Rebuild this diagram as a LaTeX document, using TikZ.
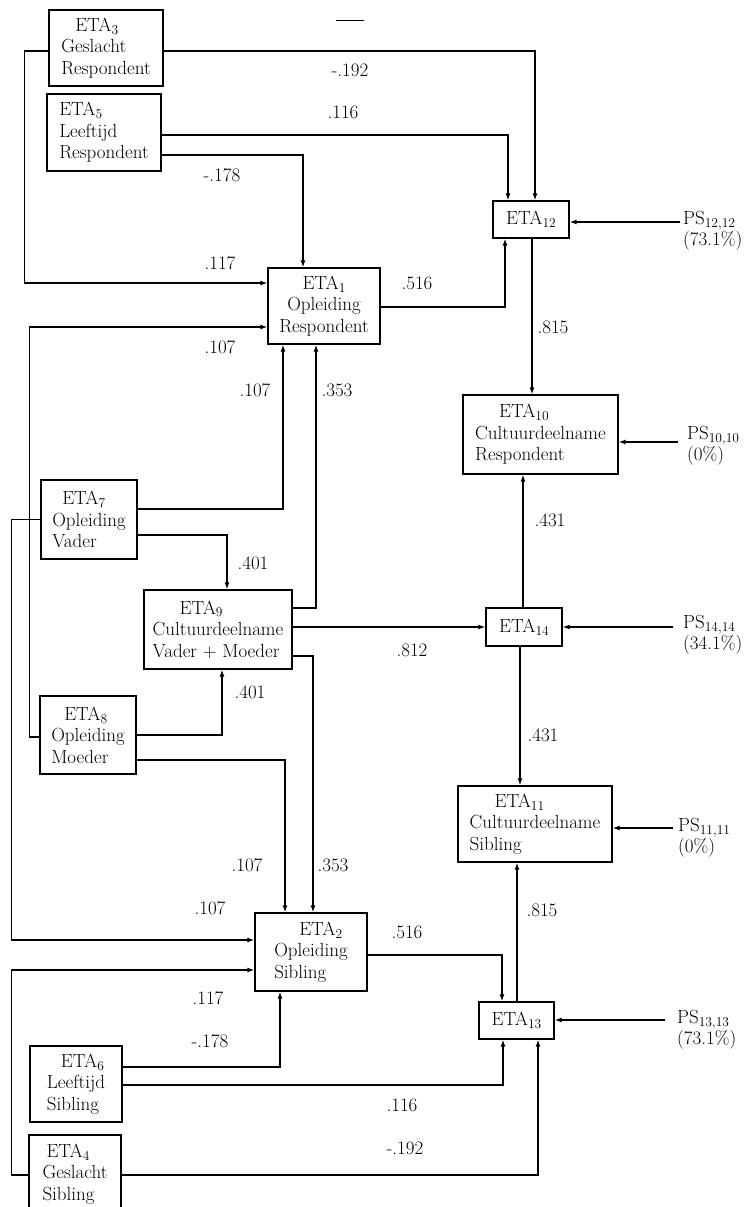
\documentclass[tikz,border=0pt]{standalone}
\usetikzlibrary{arrows.meta}
\newcommand{\etasub}[1]{\raisebox{-0.35ex}{\fontsize{13.5}{13.5}\selectfont #1}}
\begin{document}
\begin{tikzpicture}[x=1pt,y=-1pt,
  every node/.style={font=\fontsize{19}{21.5}\selectfont},
  box/.style={draw, line width=1.2pt, inner sep=0pt, align=left},
  boxc/.style={box, align=center},
  ps/.style={anchor=west, align=left, inner sep=0pt, font=\fontsize{19}{19}\selectfont},
  conn/.style={line width=1.4pt, -{Latex[length=7pt,width=5pt]}},
  lab/.style={inner sep=0pt}]
\clip (0,0) rectangle (752,1207);
\fill[white] (0,0) rectangle (752,1207);

% stray mark at top
\draw[line width=1pt] (336,21) -- (364,21);

% boxes
\node[box, minimum width=114pt, minimum height=76pt] (e3) at (106,48) {\hspace*{14pt}ETA\etasub{3}\\Geslacht\\Respondent};
\node[box, minimum width=114pt, minimum height=77pt] (e5) at (104,132.5) {ETA\etasub{5}\\Leeftijd\\Respondent};
\node[boxc, minimum width=112pt, minimum height=76pt] (e1) at (324,306) {ETA\etasub{1}\\Opleiding\\Respondent};
\node[box, minimum width=76pt, minimum height=37pt] (e12) at (531,219.5) {ETA\etasub{12}};
\node[box, minimum width=155pt, minimum height=79pt] (e10) at (540.5,434.5) {\hspace*{24pt}ETA\etasub{10}\\Cultuurdeelname\\Respondent};
\node[box, minimum width=96pt, minimum height=79pt] (e7) at (89,519.5) {\hspace*{10pt}ETA\etasub{7}\\Opleiding\\Vader};
\node[box, minimum width=148pt, minimum height=79pt] (e9) at (218,629.5) {\hspace*{27pt}ETA\etasub{9}\\Cultuurdeelname\\Vader + Moeder};
\node[box, minimum width=76pt, minimum height=38pt] (e14) at (524,627) {ETA\etasub{14}};
\node[box, minimum width=96pt, minimum height=78pt] (e8) at (88,735) {\hspace*{13pt}ETA\etasub{8}\\Opleiding\\Moeder};
\node[box, minimum width=154pt, minimum height=76pt] (e11) at (535,824) {\hspace*{25pt}ETA\etasub{11}\\Cultuurdeelname\\Sibling};
\node[box, minimum width=112pt, minimum height=78pt] (e2) at (311,952) {\hspace*{25pt}ETA\etasub{2}\\Opleiding\\Sibling};
\node[box, minimum width=75pt, minimum height=37pt] (e13) at (516.5,1020.5) {ETA\etasub{13}};
\node[box, minimum width=92pt, minimum height=76pt] (e6) at (76,1084) {\hspace*{14pt}ETA\etasub{6}\\Leeftijd\\Sibling};
\node[box, minimum width=92pt, minimum height=78pt] (e4) at (75,1174) {\hspace*{4pt}ETA\etasub{4}\\Geslacht\\Sibling};

% PS nodes
\node[ps] (ps12) at (683,231) {PS\etasub{12,12}\\(73.1\%)};
\node[ps] (ps10) at (687,446) {PS\etasub{10,10}\\(0\%)};
\node[ps] (ps14) at (683,634.5) {PS\etasub{14,14}\\(34.1\%)};
\node[ps] (ps11) at (678,837.5) {PS\etasub{11,11}\\(0\%)};
\node[ps] (ps13) at (677,1030) {PS\etasub{13,13}\\(73.1\%)};
\coordinate (p12) at (680,222);
\coordinate (p10) at (678,442);
\coordinate (p14) at (673,627);
\coordinate (p11) at (673,828);
\coordinate (p13) at (665,1020);

% connectors
\draw[conn] ([yshift=-3pt]e3.east) -| ([xshift=4pt]e12.north);
\draw[conn] ([yshift=-2.5pt]e5.east) -| ([xshift=-23pt]e12.north);
\draw[conn] ([yshift=-22.5pt]e5.east) -| ([xshift=-21pt]e1.north);
\draw[conn] ([yshift=-3pt]e3.west) -- ++(-24,0) |- ([yshift=23pt]e1.west);
\draw[conn] ([yshift=-1pt]e1.east) -| ([xshift=-26pt]e12.south);
\coordinate (c1210) at ([xshift=1pt]e12.south);
\draw[conn] (c1210) -- (c1210 |- e10.north);
\draw[conn] (p12) -- (p12 -| e12.east);
\draw[conn] (p10) -- (p10 -| e10.east);
\coordinate (c1410) at ([xshift=-1pt]e14.north);
\draw[conn] (c1410) -- (c1410 |- e10.south);
\draw[conn] ([yshift=10.5pt]e7.east) -| ([xshift=-41pt]e1.south);
\draw[conn] ([yshift=-15.5pt]e7.east) -| ([xshift=9pt]e9.north);
\draw[conn] (e7.west) -- ++(-29,0) |- ([yshift=12pt]e2.west);
\draw[conn] ([yshift=-2pt]e8.west) -- ++(-10,0) |- ([yshift=-21pt]e1.west);
\draw[conn] ([yshift=21.5pt]e9.east) -| ([xshift=-8pt]e1.south);
\coordinate (c914) at ([yshift=2.5pt]e9.east);
\draw[conn] (c914) -- (c914 -| e14.west);
\draw[conn] ([yshift=-26.5pt]e9.east) -| ([xshift=2pt]e2.north);
\draw[conn] (e8.east) -| ([xshift=4pt]e9.south);
\draw[conn] ([yshift=-25pt]e8.east) -| ([xshift=-26pt]e2.north);
\draw[conn] ([yshift=-3pt]e2.east) -| ([xshift=-14.5pt]e13.north);
\coordinate (c1311) at ([xshift=0.5pt]e13.north);
\draw[conn] (c1311) -- (c1311 |- e11.south);
\coordinate (c1411) at ([xshift=-4pt]e14.south);
\draw[conn] (c1411) -- (c1411 |- e11.north);
\draw[conn] (p14) -- (p14 -| e14.east);
\draw[conn] (p11) -- (p11 -| e11.east);
\draw[conn] (p13) -- (p13 -| e13.east);
\draw[conn] ([yshift=-1pt]e4.west) -- ++(-17,0) |- ([yshift=-18pt]e2.west);
\draw[conn] ([yshift=17pt]e6.east) -| ([xshift=-31pt]e2.south);
\draw[conn] ([yshift=-1pt]e6.east) -| ([xshift=-13.5pt]e13.south);
\draw[conn] ([yshift=-1pt]e4.east) -| ([xshift=21.5pt]e13.south);

% labels
\node[lab] (l1) at (350,70) {-.192};
\node[lab] (l2) at (343,112) {.116};
\node[lab] (l3) at (222,175) {-.178};
\node[lab] (l4) at (220,263) {.117};
\node[lab] (l5) at (417,283) {.516};
\node[lab] (l6) at (553,327) {.815};
\node[lab] (l7) at (220,347) {.107};
\node[lab] (l8) at (255,390) {.107};
\node[lab] (l9) at (337,390) {.353};
\node[lab] (l10) at (550,520) {.431};
\node[lab] (l11) at (253,563) {.401};
\node[lab] (l12) at (412,650) {.812};
\node[lab] (l13) at (250,692) {.401};
\node[lab] (l14) at (543,735) {.431};
\node[lab] (l15) at (247,865) {.107};
\node[lab] (l16) at (333,865) {.353};
\node[lab] (l17) at (210,908) {.107};
\node[lab] (l18) at (542,910) {.815};
\node[lab] (l19) at (407,932) {.516};
\node[lab] (l20) at (208,998) {.117};
\node[lab] (l21) at (210,1041) {-.178};
\node[lab] (l22) at (402,1105) {.116};
\node[lab] (l23) at (405,1148) {-.192};
\end{tikzpicture}
\end{document}
